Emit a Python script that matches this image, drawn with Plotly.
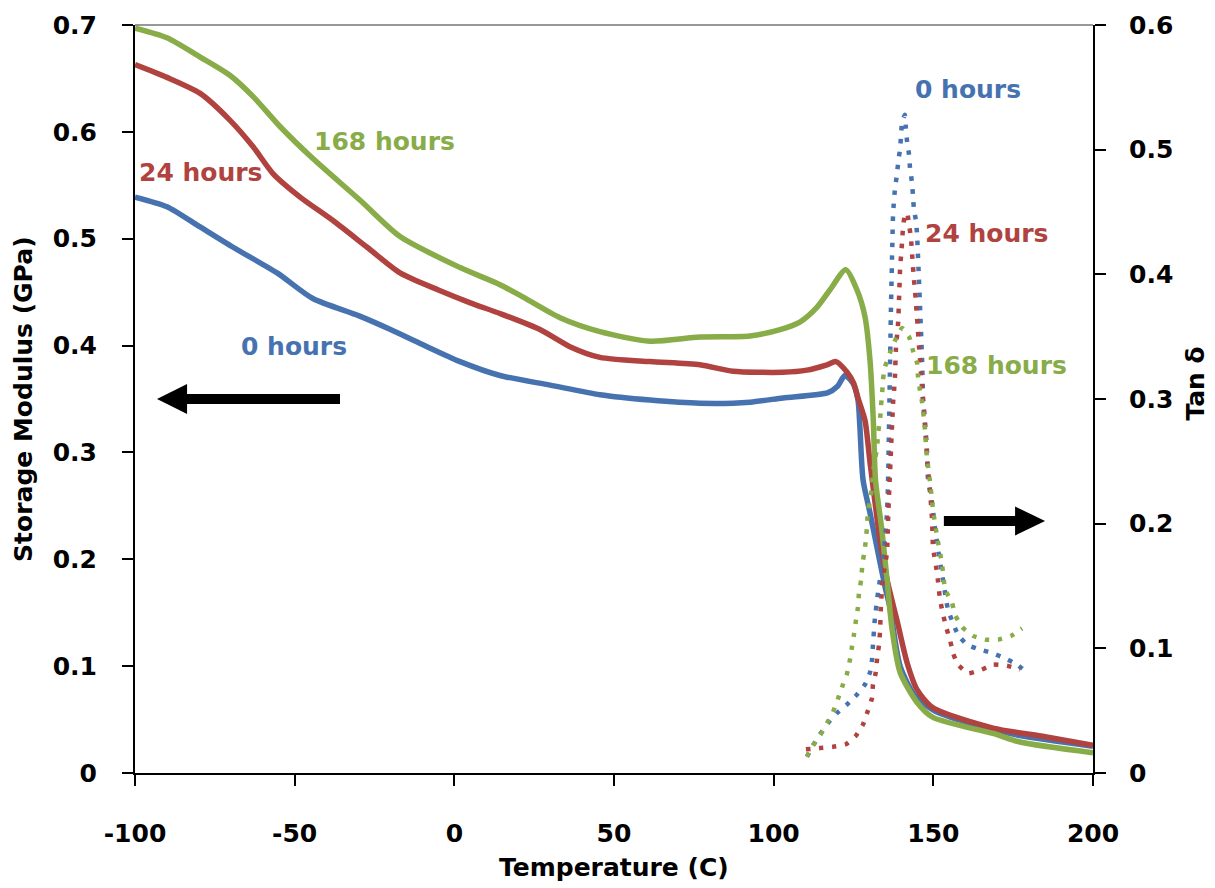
import plotly.graph_objects as go

# ---------------- data ----------------
# Storage modulus (GPa), left axis
t_e0 = [-100, -90, -79.6, -69.3, -55.5, -44.3, -30, -20, -10.7, 1.8, 14.3, 30, 45.6, 61.3, 76.9, 92.6,
        102.9, 117, 120, 122.3, 124.8, 126.4, 127, 128, 130.2, 132.7, 134.9, 136.4, 139.6, 144.3,
        150.5, 164.6, 177.1, 200]
e0 = [0.539, 0.530, 0.511, 0.492, 0.468, 0.444, 0.428, 0.415, 0.402, 0.385, 0.372, 0.363, 0.354, 0.349,
      0.346, 0.347, 0.351, 0.356, 0.362, 0.372, 0.365, 0.349, 0.324, 0.274, 0.243, 0.206, 0.174, 0.155,
      0.100, 0.072, 0.058, 0.044, 0.035, 0.025]

t_e24 = [-100, -90, -79.6, -70.3, -63, -56.8, -48.3, -38, -27.3, -17, -5, 5, 14.3, 26.8, 36.2, 45.6, 61.3,
         76.9, 87.3, 102.9, 110.4, 116.7, 119.5, 123, 125, 126.5, 128.6, 130.2, 133.3, 135.5, 138.6,
         141.8, 144.9, 149.9, 168.7, 185, 200]
e24 = [0.663, 0.651, 0.636, 0.611, 0.586, 0.561, 0.539, 0.517, 0.492, 0.468, 0.452, 0.440, 0.430, 0.415,
       0.399, 0.389, 0.385, 0.382, 0.376, 0.375, 0.377, 0.382, 0.385, 0.375, 0.365, 0.350, 0.330, 0.290,
       0.218, 0.181, 0.143, 0.103, 0.078, 0.061, 0.042, 0.034, 0.026]

t_e168 = [-100, -90, -79.6, -70.3, -63, -54.6, -44.3, -29.5, -17, 1.8, 14.3, 20.6, 33.1, 45.6, 61.3, 76.9,
          92.6, 102, 108.2, 113.6, 117.6, 122.6, 126.1, 128.6, 130.2, 131.2, 131.9, 133.9, 135.5, 137.1,
          139.6, 144.9, 149.9, 168.7, 177.1, 200]
e168 = [0.697, 0.688, 0.670, 0.653, 0.633, 0.605, 0.575, 0.536, 0.502, 0.473, 0.457, 0.447, 0.426, 0.413,
        0.404, 0.408, 0.409, 0.415, 0.422, 0.436, 0.452, 0.471, 0.452, 0.427, 0.385, 0.330, 0.274, 0.227,
        0.181, 0.134, 0.094, 0.066, 0.052, 0.037, 0.029, 0.019]

# Tan delta, right axis
t_d0 = [110.4, 112.3, 114.5, 117.0, 119.8, 123.0, 126.1, 128.6, 130.2, 130.8, 131.1, 131.7, 132.7, 134.0,
        134.9, 135.5, 135.8, 136.4, 136.7, 137.1, 137.4, 138.0, 138.6, 139.0, 139.6, 139.9, 140.2, 141.1,
        141.4, 141.8, 142.4, 142.7, 143.3, 143.6, 143.9, 144.6, 144.9, 146.5, 146.8, 147.4, 148.0, 148.3,
        149.6, 150.5, 151.5, 152.7, 154.6, 157.7, 160.5, 164.6, 168.7, 172.4, 176.2, 179.6]
d0 = [0.013, 0.022, 0.031, 0.040, 0.048, 0.055, 0.063, 0.071, 0.081, 0.091, 0.103, 0.124, 0.145, 0.167,
      0.188, 0.209, 0.231, 0.321, 0.369, 0.417, 0.449, 0.469, 0.480, 0.490, 0.501, 0.512, 0.522, 0.528,
      0.517, 0.506, 0.496, 0.485, 0.474, 0.464, 0.453, 0.442, 0.432, 0.330, 0.299, 0.281, 0.259, 0.237,
      0.217, 0.197, 0.179, 0.160, 0.131, 0.111, 0.103, 0.099, 0.096, 0.092, 0.087, 0.080]

t_d24 = [110.1, 114.5, 118.6, 122.6, 125.8, 128.0, 129.5, 130.8, 131.1, 132.0, 132.4, 133.0, 133.3, 133.6,
         134.2, 135.5, 135.8, 136.1, 137.4, 137.7, 138.0, 138.3, 139.0, 139.3, 139.6, 139.9, 140.2, 140.5,
         141.1, 141.8, 142.4, 143.0, 143.3, 143.6, 143.9, 144.3, 144.6, 144.9, 145.2, 145.5, 145.8, 146.1,
         146.5, 147.1, 147.7, 148.3, 149.0, 149.6, 149.9, 151.2, 152.1, 153.0, 154.0, 155.2, 156.2, 157.7,
         160.9, 165.2, 168.7, 173.1, 177.1]
d24 = [0.019, 0.020, 0.021, 0.023, 0.030, 0.039, 0.050, 0.060, 0.071, 0.081, 0.092, 0.103, 0.113, 0.135,
       0.156, 0.177, 0.201, 0.221, 0.297, 0.307, 0.319, 0.341, 0.362, 0.383, 0.405, 0.415, 0.426, 0.437,
       0.448, 0.449, 0.440, 0.429, 0.418, 0.407, 0.397, 0.386, 0.375, 0.365, 0.354, 0.343, 0.333, 0.322,
       0.307, 0.289, 0.267, 0.245, 0.225, 0.203, 0.181, 0.160, 0.139, 0.128, 0.117, 0.107, 0.096, 0.087,
       0.080, 0.083, 0.087, 0.086, 0.083]

t_d168 = [110.4, 112.3, 114.5, 116.7, 118.6, 120.2, 121.7, 123.0, 123.9, 124.5, 125.2, 125.8, 126.4, 126.7,
          127.4, 127.7, 128.3, 128.9, 129.2, 129.5, 130.2, 130.8, 131.1, 131.7, 132.4, 132.7, 133.3, 133.6,
          134.0, 134.2, 134.9, 136.4, 138.0, 140.2, 142.4, 143.6, 144.9, 145.2, 145.8, 146.5, 147.4, 148.0,
          149.0, 149.9, 151.2, 152.7, 153.7, 155.8, 156.8, 159.0, 162.4, 166.2, 170.3, 174.3, 177.8]
d168 = [0.013, 0.022, 0.030, 0.040, 0.049, 0.060, 0.071, 0.080, 0.091, 0.101, 0.112, 0.123, 0.133, 0.144,
        0.155, 0.165, 0.176, 0.187, 0.197, 0.209, 0.219, 0.229, 0.241, 0.251, 0.261, 0.273, 0.283, 0.294,
        0.305, 0.315, 0.326, 0.337, 0.347, 0.357, 0.350, 0.339, 0.329, 0.318, 0.307, 0.297, 0.275, 0.253,
        0.233, 0.211, 0.189, 0.168, 0.147, 0.137, 0.127, 0.117, 0.110, 0.107, 0.107, 0.110, 0.116]

x_ticks = [-100, -50, 0, 50, 100, 150, 200]
y1_ticks = [0, 0.1, 0.2, 0.3, 0.4, 0.5, 0.6, 0.7]
y2_ticks = [0, 0.1, 0.2, 0.3, 0.4, 0.5, 0.6]

BLUE = "#4673B0"
RED = "#B0433F"
GREEN = "#88AC48"
FONT = "DejaVu Sans"

fig = go.Figure()
for tx, vy, col in [(t_e0, e0, BLUE), (t_e24, e24, RED), (t_e168, e168, GREEN)]:
    fig.add_trace(go.Scatter(x=tx, y=vy, mode="lines",
                             line=dict(color=col, width=5.5, shape="spline", smoothing=0.7),
                             showlegend=False, hoverinfo="skip"))
for tx, vy, col in [(t_d0, d0, BLUE), (t_d24, d24, RED), (t_d168, d168, GREEN)]:
    fig.add_trace(go.Scatter(x=tx, y=vy, mode="lines", yaxis="y2",
                             line=dict(color=col, width=4.5, dash="4.5px,8.5px",
                                       shape="spline", smoothing=0.4),
                             showlegend=False, hoverinfo="skip"))

tickfont = dict(family=FONT, size=25, color="black", weight="bold")
fig.update_layout(
    width=1215, height=888,
    margin=dict(l=135, r=122, t=25, b=115),
    paper_bgcolor="white", plot_bgcolor="white",
    xaxis=dict(range=[-100, 200], tickvals=x_ticks, ticktext=[str(v) for v in x_ticks],
               showgrid=False, zeroline=False, showline=True, linecolor="black", linewidth=2,
               ticks="outside", ticklen=11, tickwidth=1.5, tickcolor="black",
               tickfont=tickfont, ticklabelstandoff=26),
    yaxis=dict(range=[0, 0.7], tickvals=y1_ticks, ticktext=["0" if v == 0 else f"{v:g}" for v in y1_ticks],
               showgrid=False, zeroline=False, showline=True, linecolor="black", linewidth=2,
               ticks="outside", ticklen=11, tickwidth=1.5, tickcolor="black",
               tickfont=tickfont, ticklabelstandoff=20),
    yaxis2=dict(range=[0, 0.6], tickvals=y2_ticks, ticktext=["0" if v == 0 else f"{v:g}" for v in y2_ticks],
                overlaying="y", side="right",
                showgrid=False, zeroline=False, showline=True, linecolor="black", linewidth=2,
                ticks="outside", ticklen=11, tickwidth=1.5, tickcolor="black",
                tickfont=tickfont, ticklabelstandoff=18),
)

# top border
fig.add_shape(type="line", xref="paper", yref="paper", x0=0, x1=1, y0=1, y1=1,
              line=dict(color="#333333", width=1.2))

# arrows
fig.add_shape(type="line", xref="x", yref="y", x0=-35.8, x1=-84.5, y0=0.35, y1=0.35,
              line=dict(color="black", width=10))
fig.add_shape(type="path", xref="x", yref="y", path="M -93.1,0.35 L -83.7,0.364 L -83.7,0.336 Z",
              fillcolor="black", line=dict(color="black", width=0))
fig.add_shape(type="line", xref="x", yref="y", x0=153.3, x1=176.3, y0=0.2358, y1=0.2358,
              line=dict(color="black", width=10))
fig.add_shape(type="path", xref="x", yref="y", path="M 185.0,0.2358 L 175.6,0.2494 L 175.6,0.2222 Z",
              fillcolor="black", line=dict(color="black", width=0))

labels = [
    ("0 hours", -50.2, 0.3996, BLUE),
    ("168 hours", -22.0, 0.5914, GREEN),
    ("24 hours", -79.6, 0.5624, RED),
    ("0 hours", 160.9, 0.640, BLUE),
    ("24 hours", 166.8, 0.5053, RED),
    ("168 hours", 169.9, 0.3809, GREEN),
]
for txt, lx, ly, col in labels:
    fig.add_annotation(text=txt, x=lx, y=ly, xref="x", yref="y", showarrow=False,
                       font=dict(family=FONT, size=25, color=col, weight="bold"),
                       xanchor="center", yanchor="middle")

# axis titles
fig.add_annotation(text="Temperature (C)", x=0.5, xref="paper", y=-0.127, yref="paper",
                   showarrow=False, xanchor="center", yanchor="middle",
                   font=dict(family=FONT, size=25, color="black", weight="bold"))
fig.add_annotation(text="Storage Modulus (GPa)", x=-0.117, xref="paper", y=0.5, yref="paper",
                   showarrow=False, xanchor="center", yanchor="middle", textangle=-90,
                   font=dict(family=FONT, size=25, color="black", weight="bold"))
fig.add_annotation(text="Tan δ", x=1.106, xref="paper", y=0.52, yref="paper",
                   showarrow=False, xanchor="center", yanchor="middle", textangle=-90,
                   font=dict(family=FONT, size=25, color="black", weight="bold"))

fig.write_html("out.html")
